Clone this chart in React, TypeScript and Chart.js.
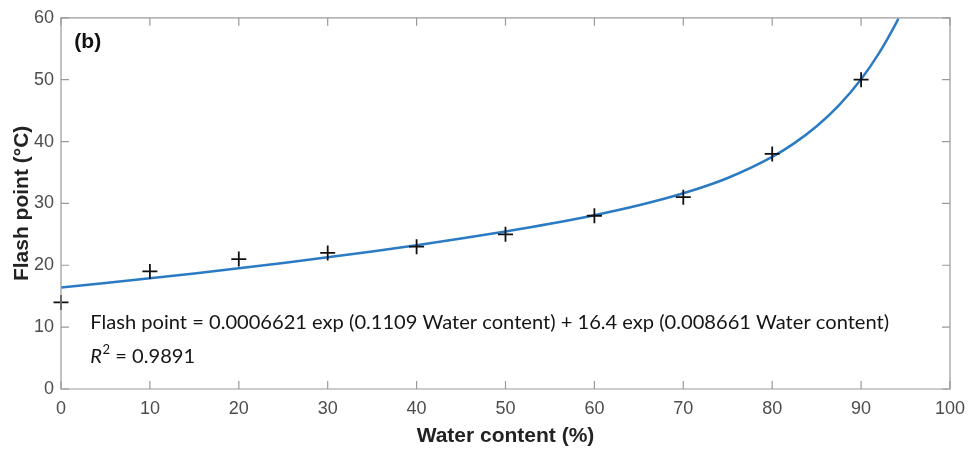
import React, { useEffect, useRef } from "react";
import { Chart, registerables } from "chart.js";

Chart.register(...registerables);

// Measured data (water content %, flash point °C)
const waterContent = [0, 10, 20, 30, 40, 50, 60, 70, 80, 90];
const flashPoint = [14, 19, 21, 22, 23, 25, 28, 31, 38, 50];

// Fitted curve
const fitX = [0, 5, 10, 15, 20, 25, 30, 35, 40, 45, 50, 55, 60, 65, 70, 75, 80, 82.5, 85, 87.5, 90, 92, 94, 94.2];
const fitY = [16.4, 17.13, 17.89, 18.68, 19.51, 20.38, 21.28, 22.24, 23.25, 24.31, 25.46, 26.7, 28.09, 29.69, 31.63, 34.11, 37.51, 39.74, 42.46, 45.84, 50.07, 54.24, 59.31, 59.88];

const xTicks = [0, 10, 20, 30, 40, 50, 60, 70, 80, 90, 100];
const yTicks = [0, 10, 20, 30, 40, 50, 60];

const equationText = "Flash point = 0.0006621 exp (0.1109 Water content) + 16.4 exp (0.008661 Water content)";
const r2Value = "0.9891";
const panelLabel = "(b)";

const FRAME = "#9a9a9a";
const TICK_FONT = "Liberation Sans, Arial, sans-serif";

const framePlugin = {
  id: "frameAndText",
  afterDraw(chart: any) {
    const { ctx, chartArea } = chart;
    const xs = chart.scales.x;
    const ys = chart.scales.y;
    const { left, right, top, bottom } = chartArea;
    ctx.save();
    ctx.strokeStyle = FRAME;
    ctx.lineWidth = 1.2;
    ctx.beginPath();
    ctx.rect(left, top, right - left, bottom - top);
    ctx.stroke();
    const tl = 8;
    ctx.beginPath();
    xTicks.forEach((v) => {
      const px = xs.getPixelForValue(v);
      ctx.moveTo(px, bottom);
      ctx.lineTo(px, bottom - tl);
      ctx.moveTo(px, top);
      ctx.lineTo(px, top + tl);
    });
    yTicks.forEach((v) => {
      const py = ys.getPixelForValue(v);
      ctx.moveTo(left, py);
      ctx.lineTo(left + tl, py);
      ctx.moveTo(right, py);
      ctx.lineTo(right - tl, py);
    });
    ctx.stroke();

    // panel label
    ctx.fillStyle = "#111";
    ctx.font = "bold 21px " + TICK_FONT;
    ctx.textBaseline = "middle";
    ctx.textAlign = "left";
    ctx.fillText(panelLabel, xs.getPixelForValue(1.5), ys.getPixelForValue(56.1));

    // equation text
    const eqX = xs.getPixelForValue(3.3);
    ctx.fillStyle = "#151515";
    ctx.font = "17px Lato, 'Open Sans', sans-serif";
    const w = ctx.measureText(equationText).width;
    const targetW = xs.getPixelForValue(93.2) - eqX;
    const fs = 17 * targetW / w;
    ctx.font = fs.toFixed(2) + "px Lato, 'Open Sans', sans-serif";
    ctx.fillText(equationText, eqX, ys.getPixelForValue(10.7));

    const ry = ys.getPixelForValue(5.3);
    ctx.font = "italic " + fs.toFixed(2) + "px Lato, 'Open Sans', sans-serif";
    ctx.fillText("R", eqX, ry);
    let cx = eqX + ctx.measureText("R").width + 0.5;
    ctx.font = (fs * 0.65).toFixed(2) + "px Lato, 'Open Sans', sans-serif";
    ctx.fillText("2", cx, ry - fs * 0.3);
    cx += ctx.measureText("2").width;
    ctx.font = fs.toFixed(2) + "px Lato, 'Open Sans', sans-serif";
    ctx.fillText(" = " + r2Value, cx, ry);
    ctx.restore();
  },
};

export default function App() {
  const ref = useRef<HTMLCanvasElement | null>(null);
  useEffect(() => {
    document.body.style.margin = "0";
    if (!ref.current) return;
    const chart = new Chart(ref.current, {
      type: "scatter",
      data: {
        datasets: [
          {
            type: "line",
            label: "Fit",
            data: fitX.map((x, i) => ({ x, y: fitY[i] })),
            borderColor: "#2b7bc4",
            borderWidth: 2.5,
            pointRadius: 0,
            tension: 0.4,
            cubicInterpolationMode: "monotone",
            fill: false,
            clip: 0,
            order: 2,
          } as any,
          {
            label: "Data",
            data: waterContent.map((x, i) => ({ x, y: flashPoint[i] })),
            pointStyle: "cross",
            pointRadius: 7.5,
            borderColor: "#111",
            borderWidth: 1.8,
            backgroundColor: "#111",
            clip: false,
            order: 1,
          } as any,
        ],
      },
      options: {
        animation: false,
        responsive: false,
        maintainAspectRatio: false,
        layout: { padding: { top: 16, right: 21, left: 0, bottom: 0 } },
        plugins: { legend: { display: false }, tooltip: { enabled: false } },
        scales: {
          x: {
            type: "linear",
            min: 0,
            max: 100,
            afterBuildTicks: (s: any) => {
              s.ticks = xTicks.map((v) => ({ value: v }));
            },
            afterFit: (s: any) => {
              s.height = 60;
            },
            grid: { display: false, drawTicks: false },
            border: { display: false },
            ticks: {
              color: "#4d4d4d",
              font: { family: TICK_FONT, size: 18 },
              padding: 9,
              maxRotation: 0,
            },
            title: {
              display: true,
              text: "Water content (%)",
              color: "#222",
              font: { family: TICK_FONT, size: 21, weight: "bold" },
              padding: { top: 0, bottom: 0 },
            },
          },
          y: {
            type: "linear",
            min: 0,
            max: 60,
            afterBuildTicks: (s: any) => {
              s.ticks = yTicks.map((v) => ({ value: v }));
            },
            afterFit: (s: any) => {
              s.width = 61;
            },
            grid: { display: false, drawTicks: false },
            border: { display: false },
            ticks: {
              color: "#4d4d4d",
              font: { family: TICK_FONT, size: 18 },
              padding: 7,
            },
            title: {
              display: true,
              text: "Flash point (°C)",
              color: "#222",
              font: { family: TICK_FONT, size: 21, weight: "bold" },
              padding: { top: 10, bottom: 0 },
            },
          },
        },
      },
      plugins: [framePlugin],
    });
    return () => chart.destroy();
  }, []);
  return (
    <div style={{ width: 974, height: 449 }}>
      <canvas ref={ref} width={974} height={449} style={{ width: 974, height: 449, display: "block" }} />
    </div>
  );
}
